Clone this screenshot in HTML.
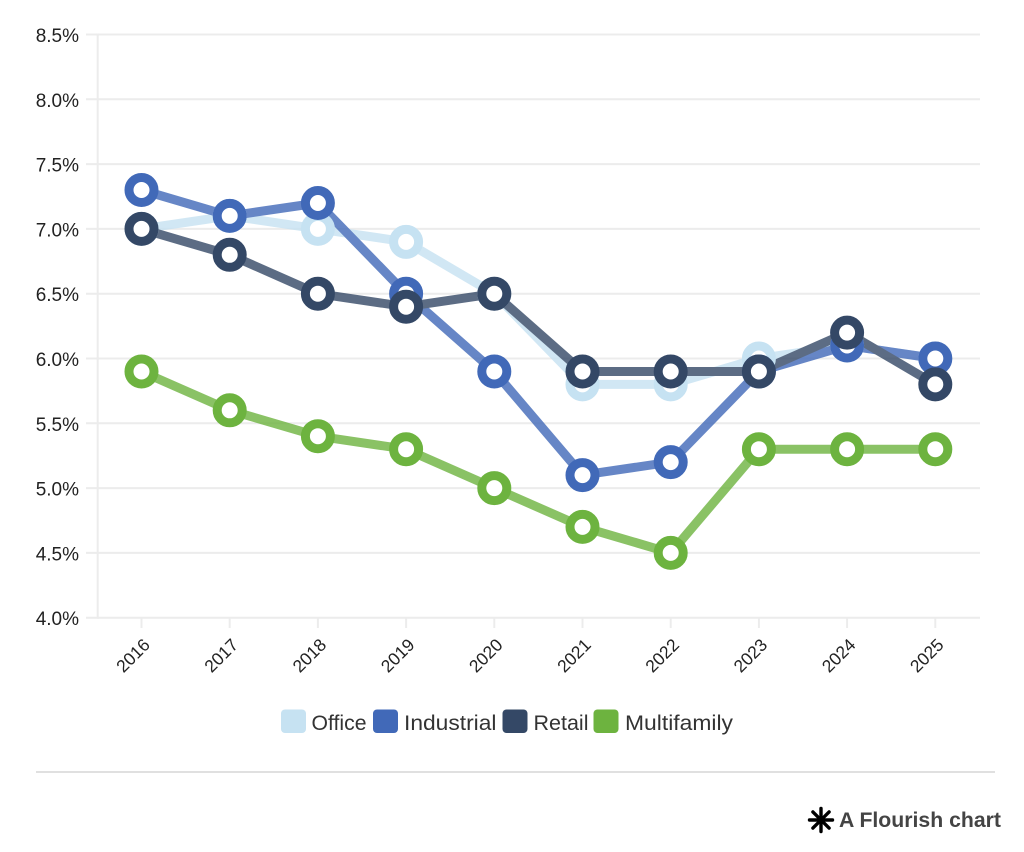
<!DOCTYPE html>
<html>
<head>
<meta charset="utf-8">
<style>
html,body{margin:0;padding:0;background:#fff;}
svg{display:block;}
text{font-family:"Liberation Sans",sans-serif;}
</style>
</head>
<body>
<svg width="1024" height="852" viewBox="0 0 1024 852" xmlns="http://www.w3.org/2000/svg">
<rect width="1024" height="852" fill="#fff"/>
<!-- gridlines -->
<g stroke="#ececec" stroke-width="2">
<line x1="86" y1="34.5" x2="980" y2="34.5"/>
<line x1="86" y1="99.3" x2="980" y2="99.3"/>
<line x1="86" y1="164.1" x2="980" y2="164.1"/>
<line x1="86" y1="228.9" x2="980" y2="228.9"/>
<line x1="86" y1="293.7" x2="980" y2="293.7"/>
<line x1="86" y1="358.5" x2="980" y2="358.5"/>
<line x1="86" y1="423.3" x2="980" y2="423.3"/>
<line x1="86" y1="488.1" x2="980" y2="488.1"/>
<line x1="86" y1="552.9" x2="980" y2="552.9"/>
<line x1="86" y1="617.7" x2="980" y2="617.7"/>
<line x1="97.7" y1="33.5" x2="97.7" y2="618.7"/>
<line x1="141.5" y1="617.7" x2="141.5" y2="628"/>
<line x1="229.7" y1="617.7" x2="229.7" y2="628"/>
<line x1="317.9" y1="617.7" x2="317.9" y2="628"/>
<line x1="406.1" y1="617.7" x2="406.1" y2="628"/>
<line x1="494.3" y1="617.7" x2="494.3" y2="628"/>
<line x1="582.5" y1="617.7" x2="582.5" y2="628"/>
<line x1="670.7" y1="617.7" x2="670.7" y2="628"/>
<line x1="758.9" y1="617.7" x2="758.9" y2="628"/>
<line x1="847.1" y1="617.7" x2="847.1" y2="628"/>
<line x1="935.3" y1="617.7" x2="935.3" y2="628"/>
</g>
<!-- y labels -->
<g font-size="19" fill="#222" text-anchor="end">
<text x="79" y="42">8.5%</text>
<text x="79" y="106.8">8.0%</text>
<text x="79" y="171.6">7.5%</text>
<text x="79" y="236.4">7.0%</text>
<text x="79" y="301.2">6.5%</text>
<text x="79" y="366">6.0%</text>
<text x="79" y="430.8">5.5%</text>
<text x="79" y="495.6">5.0%</text>
<text x="79" y="560.4">4.5%</text>
<text x="79" y="625.2">4.0%</text>
</g>
<!-- x labels -->
<g font-size="17.5" fill="#222" text-anchor="end">
<text transform="translate(151,646) rotate(-45)">2016</text>
<text transform="translate(239.2,646) rotate(-45)">2017</text>
<text transform="translate(327.4,646) rotate(-45)">2018</text>
<text transform="translate(415.6,646) rotate(-45)">2019</text>
<text transform="translate(503.8,646) rotate(-45)">2020</text>
<text transform="translate(592,646) rotate(-45)">2021</text>
<text transform="translate(680.2,646) rotate(-45)">2022</text>
<text transform="translate(768.4,646) rotate(-45)">2023</text>
<text transform="translate(856.6,646) rotate(-45)">2024</text>
<text transform="translate(944.8,646) rotate(-45)">2025</text>
</g>
<!-- lines -->
<g fill="none" stroke-width="9" stroke-linejoin="round" stroke-linecap="round" opacity="0.8">
<polyline stroke="#c6e2f2" points="141.5,228.9 229.7,215.9 317.9,228.9 406.1,241.9 494.3,293.7 582.5,384.4 670.7,384.4 758.9,358.5 847.1,345.5 935.3,358.5"/>
<polyline stroke="#4169b8" points="141.5,190 229.7,215.9 317.9,203 406.1,293.7 494.3,371.5 582.5,475.1 670.7,462.1 758.9,371.5 847.1,345.5 935.3,358.5"/>
<polyline stroke="#344866" points="141.5,228.9 229.7,254.8 317.9,293.7 406.1,306.7 494.3,293.7 582.5,371.5 670.7,371.5 758.9,371.5 847.1,332.6 935.3,384.4"/>
<polyline stroke="#6db33f" points="141.5,371.5 229.7,410.3 317.9,436.2 406.1,449.2 494.3,488.1 582.5,526.9 670.7,552.9 758.9,449.2 847.1,449.2 935.3,449.2"/>
</g>
<!-- markers -->
<g fill="#fff" stroke-width="9">
<g stroke="#c6e2f2">
<circle cx="141.5" cy="228.9" r="12.5"/><circle cx="229.7" cy="215.9" r="12.5"/><circle cx="317.9" cy="228.9" r="12.5"/><circle cx="406.1" cy="241.9" r="12.5"/><circle cx="494.3" cy="293.7" r="12.5"/><circle cx="582.5" cy="384.4" r="12.5"/><circle cx="670.7" cy="384.4" r="12.5"/><circle cx="758.9" cy="358.5" r="12.5"/><circle cx="847.1" cy="345.5" r="12.5"/><circle cx="935.3" cy="358.5" r="12.5"/>
</g>
<g stroke="#4169b8">
<circle cx="141.5" cy="190" r="12.5"/><circle cx="229.7" cy="215.9" r="12.5"/><circle cx="317.9" cy="203" r="12.5"/><circle cx="406.1" cy="293.7" r="12.5"/><circle cx="494.3" cy="371.5" r="12.5"/><circle cx="582.5" cy="475.1" r="12.5"/><circle cx="670.7" cy="462.1" r="12.5"/><circle cx="758.9" cy="371.5" r="12.5"/><circle cx="847.1" cy="345.5" r="12.5"/><circle cx="935.3" cy="358.5" r="12.5"/>
</g>
<g stroke="#344866">
<circle cx="141.5" cy="228.9" r="12.5"/><circle cx="229.7" cy="254.8" r="12.5"/><circle cx="317.9" cy="293.7" r="12.5"/><circle cx="406.1" cy="306.7" r="12.5"/><circle cx="494.3" cy="293.7" r="12.5"/><circle cx="582.5" cy="371.5" r="12.5"/><circle cx="670.7" cy="371.5" r="12.5"/><circle cx="758.9" cy="371.5" r="12.5"/><circle cx="847.1" cy="332.6" r="12.5"/><circle cx="935.3" cy="384.4" r="12.5"/>
</g>
<g stroke="#6db33f">
<circle cx="141.5" cy="371.5" r="12.5"/><circle cx="229.7" cy="410.3" r="12.5"/><circle cx="317.9" cy="436.2" r="12.5"/><circle cx="406.1" cy="449.2" r="12.5"/><circle cx="494.3" cy="488.1" r="12.5"/><circle cx="582.5" cy="526.9" r="12.5"/><circle cx="670.7" cy="552.9" r="12.5"/><circle cx="758.9" cy="449.2" r="12.5"/><circle cx="847.1" cy="449.2" r="12.5"/><circle cx="935.3" cy="449.2" r="12.5"/>
</g>
</g>
<!-- legend -->
<rect x="281" y="709.5" width="25" height="23.5" rx="4" fill="#c6e2f2"/>
<rect x="373" y="709.5" width="25" height="23.5" rx="4" fill="#4169b8"/>
<rect x="502.5" y="709.5" width="25" height="23.5" rx="4" fill="#344866"/>
<rect x="593.5" y="709.5" width="25" height="23.5" rx="4" fill="#6db33f"/>
<g font-size="21" fill="#333">
<text x="311.5" y="730" textLength="55" lengthAdjust="spacingAndGlyphs">Office</text>
<text x="404" y="730" textLength="92.5" lengthAdjust="spacingAndGlyphs">Industrial</text>
<text x="533.5" y="730" textLength="55" lengthAdjust="spacingAndGlyphs">Retail</text>
<text x="625" y="730" textLength="108" lengthAdjust="spacingAndGlyphs">Multifamily</text>
</g>
<!-- separator -->
<line x1="36" y1="772" x2="995" y2="772" stroke="#e0e0e0" stroke-width="2"/>
<!-- footer -->
<g stroke="#000" stroke-width="3.4" stroke-linecap="round">
<line x1="821" y1="808.5" x2="821" y2="831.5"/>
<line x1="809.5" y1="820" x2="832.5" y2="820"/>
<line x1="812.9" y1="811.9" x2="829.1" y2="828.1"/>
<line x1="829.1" y1="811.9" x2="812.9" y2="828.1"/>
</g>
<text x="839" y="827" font-size="21" font-weight="bold" fill="#444" textLength="162" lengthAdjust="spacingAndGlyphs">A Flourish chart</text>
</svg>
</body>
</html>
